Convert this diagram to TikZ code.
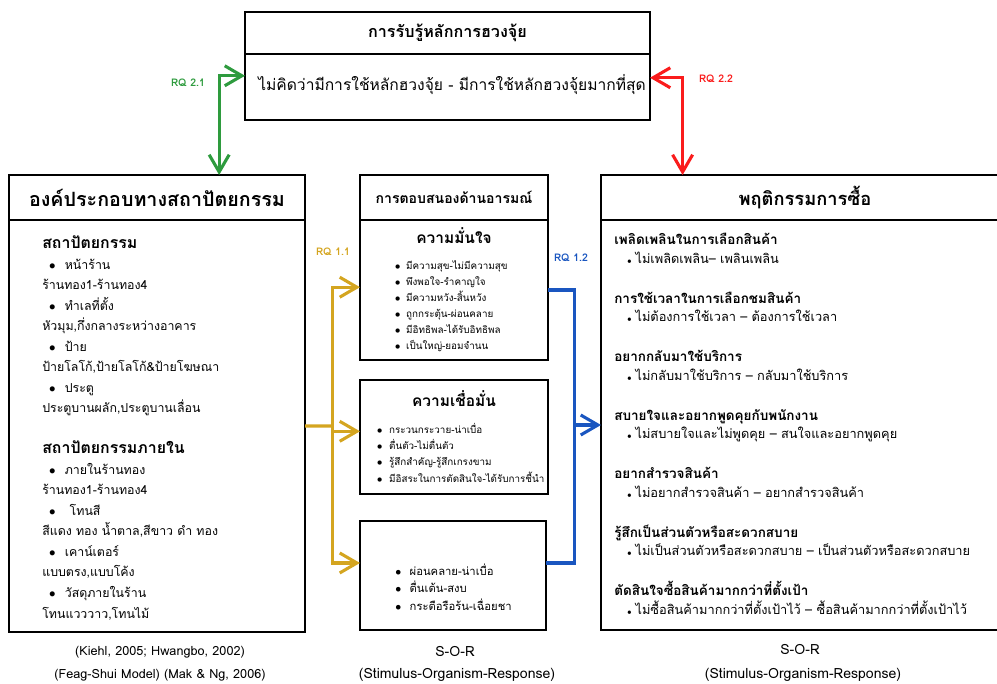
\documentclass[tikz,border=0pt]{standalone}
\usepackage{fontspec}
\setmainfont{Loma}[Script=Thai]
\usepackage{tikz}
\usetikzlibrary{arrows.meta, positioning, calc}
\definecolor{rqgreen}{RGB}{46,155,62}
\definecolor{rqred}{RGB}{250,28,28}
\definecolor{rqgold}{RGB}{212,165,32}
\definecolor{rqblue}{RGB}{26,86,192}
\newcommand{\hd}[1]{{\bfseries\fontsize{11.3}{14.6}\selectfont #1}}
\newcommand{\titik}[2]{\hspace*{#1}$\bullet$\hspace{#2}}
\newcommand{\juk}{\hspace*{9pt}{\tiny$\bullet$}\hspace{2.5pt}}
\tikzset{
    krob/.style   = {draw, line width=1.4pt, inner sep=0pt, outer sep=0pt},
    judul/.style  = {font=\bfseries\fontsize{14}{16}\selectfont},
    isi/.style    = {align=left, inner sep=0pt, anchor=base west},
    pai/.style    = {font=\bfseries\fontsize{7.5}{8}\selectfont, inner sep=0pt},
    ref/.style    = {font=\fontsize{9}{10}\selectfont, inner sep=0pt},
    sen/.style    = {line width=2.2pt},
    lukson/.style = {sen, -{Straight Barb[length=4.3mm, width=5mm]}},
    songtang/.style = {sen, {Straight Barb[length=4.3mm, width=5mm]}-{Straight Barb[length=4.3mm, width=5mm]}},
}
\begin{document}
\begin{tikzpicture}[x=0.25mm, y=-0.25mm]
    \useasboundingbox (0,0) rectangle (997,684);
    % top box
    \node[krob, font=\bfseries\fontsize{11.5}{14}\selectfont, minimum width=101.25mm, minimum height=10.5mm] (tophead) at (447.5,33) {การรับรู้หลักการฮวงจุ้ย};
    \node[krob, minimum width=101.25mm, minimum height=16.5mm, below=0pt of tophead] (topbody) {};
    \node[isi, font=\fontsize{11.1}{14}\selectfont] (topisi) at (258,91) {ไม่คิดว่ามีการใช้หลักฮวงจุ้ย - มีการใช้หลักฮวงจุ้ยมากที่สุด};
    % left: architecture
    \node[krob, judul, minimum width=74mm, minimum height=11.25mm] (lefthead) at (157,197.5) {องค์ประกอบทางสถาปัตยกรรม};
    \node[krob, minimum width=74mm, minimum height=103mm, below=0pt of lefthead] (leftbody) {};
    \node[isi, font=\fontsize{8.8}{14.6}\selectfont] (leftisi) at (42,618) {\hd{สถาปัตยกรรม}\\
        \titik{4.9pt}{6.5pt}หน้าร้าน\\
        ร้านทอง1-ร้านทอง4\\
        \titik{4.9pt}{6.5pt}ทำเลที่ตั้ง\\
        หัวมุม,กึ่งกลางระหว่างอาคาร\\
        \titik{4.9pt}{6.5pt}ป้าย\\
        ป้ายโลโก้,ป้ายโลโก้\&ป้ายโฆษณา\\
        \titik{4.9pt}{6.5pt}ประตู\\
        ประตูบานผลัก,ประตูบานเลื่อน\\[14.6pt]
        \hd{สถาปัตยกรรมภายใน}\\
        \titik{4.9pt}{6.5pt}ภายในร้านทอง\\
        ร้านทอง1-ร้านทอง4\\
        \titik{4.9pt}{10pt}โทนสี\\
        สีแดง ทอง น้ำตาล,สีขาว ดำ ทอง\\
        \titik{4.9pt}{6.5pt}เคาน์เตอร์\\
        แบบตรง,แบบโค้ง\\
        \titik{4.9pt}{6.5pt}วัสดุภายในร้าน\\
        โทนแวววาว,โทนไม้};
    \node[ref] (cite1) at (160,652) {(Kiehl, 2005; Hwangbo, 2002)};
    \node[ref] (cite2) at (160,675) {(Feag-Shui Model) (Mak \& Ng, 2006)};
    % middle: emotional response
    \node[krob, font=\bfseries\fontsize{10}{12}\selectfont, minimum width=47mm, minimum height=11.25mm] (midhead) at (454,197.5) {การตอบสนองด้านอารมณ์};
    \node[krob, minimum width=47mm, minimum height=35mm, below=0pt of midhead] (conf) {};
    \node[krob, minimum width=47mm, minimum height=28.5mm, below=5mm of conf] (trust) {};
    \node[krob, minimum width=46.5mm, minimum height=27.25mm, below=6.75mm of trust.south west, anchor=north west] (mood) {};
    \node[font=\bfseries\fontsize{11}{13}\selectfont, inner sep=0pt] (conftitle) at (454,236) {ความมั่นใจ};
    \node[isi, font=\fontsize{7}{11.5}\selectfont] (conflist) at (394.5,350) {\titik{0pt}{4pt}มีความสุข-ไม่มีความสุข\\
        \titik{0pt}{4pt}พึงพอใจ-รำคาญใจ\\
        \titik{0pt}{4pt}มีความหวัง-สิ้นหวัง\\
        \titik{0pt}{4pt}ถูกกระตุ้น-ผ่อนคลาย\\
        \titik{0pt}{4pt}มีอิทธิพล-ได้รับอิทธิพล\\
        \titik{0pt}{4pt}เป็นใหญ่-ยอมจำนน};
    \node[font=\bfseries\fontsize{11}{13}\selectfont, inner sep=0pt] (trusttitle) at (454,399) {ความเชื่อมั่น};
    \node[isi, font=\fontsize{7}{11.5}\selectfont] (trustlist) at (376.5,482) {\titik{0pt}{4.7pt}กระวนกระวาย-น่าเบื่อ\\
        \titik{0pt}{4.7pt}ตื่นตัว-ไม่ตื่นตัว\\
        \titik{0pt}{4.7pt}รู้สึกสำคัญ-รู้สึกเกรงขาม\\
        \titik{0pt}{4.7pt}มีอิสระในการตัดสินใจ-ได้รับการชี้นำ};
    \node[isi, font=\fontsize{8}{12.4}\selectfont] (moodlist) at (395,610) {\titik{0pt}{6pt}ผ่อนคลาย-น่าเบื่อ\\
        \titik{0pt}{6pt}ตื่นเต้น-สงบ\\
        \titik{0pt}{6pt}กระตือรือร้น-เฉื่อยชา};
    \node[ref, font=\fontsize{10}{11}\selectfont] (sor1) at (455,651) {S-O-R};
    \node[ref, font=\fontsize{10}{11}\selectfont] (sor1b) at (457,675) {(Stimulus-Organism-Response)};
    % right: buying behaviour
    \node[krob, judul, font=\bfseries\fontsize{13}{15}\selectfont, minimum width=102mm, minimum height=11.25mm] (righthead) at (805,197.5) {พฤติกรรมการซื้อ};
    \node[krob, minimum width=102mm, minimum height=102.5mm, below=0pt of righthead] (rightbody) {};
    \node[isi, font=\fontsize{9.1}{13}\selectfont] (rightisi) at (614,614) {{\bfseries\fontsize{9.6}{13}\selectfont เพลิดเพลินในการเลือกสินค้า}\\
        \juk ไม่เพลิดเพลิน– เพลินเพลิน\\[15.6pt]
        {\bfseries\fontsize{9.6}{13}\selectfont การใช้เวลาในการเลือกชมสินค้า}\\
        \juk ไม่ต้องการใช้เวลา – ต้องการใช้เวลา\\[15.6pt]
        {\bfseries\fontsize{9.6}{13}\selectfont อยากกลับมาใช้บริการ}\\
        \juk ไม่กลับมาใช้บริการ – กลับมาใช้บริการ\\[15.6pt]
        {\bfseries\fontsize{9.6}{13}\selectfont สบายใจและอยากพูดคุยกับพนักงาน}\\
        \juk ไม่สบายใจและไม่พูดคุย – สนใจและอยากพูดคุย\\[15.6pt]
        {\bfseries\fontsize{9.6}{13}\selectfont อยากสำรวจสินค้า}\\
        \juk ไม่อยากสำรวจสินค้า – อยากสำรวจสินค้า\\[15.6pt]
        {\bfseries\fontsize{9.6}{13}\selectfont รู้สึกเป็นส่วนตัวหรือสะดวกสบาย}\\
        \juk ไม่เป็นส่วนตัวหรือสะดวกสบาย – เป็นส่วนตัวหรือสะดวกสบาย\\[15.6pt]
        {\bfseries\fontsize{9.6}{13}\selectfont ตัดสินใจซื้อสินค้ามากกว่าที่ตั้งเป้า}\\
        \juk ไม่ซื้อสินค้ามากกว่าที่ตั้งเป้าไว้ – ซื้อสินค้ามากกว่าที่ตั้งเป้าไว้};
    \node[ref, font=\fontsize{10}{11}\selectfont] (sor2) at (800,649) {S-O-R};
    \node[ref, font=\fontsize{10}{11}\selectfont] (sor2b) at (803,675) {(Stimulus-Organism-Response)};
    % RQ 2.1 / RQ 2.2
    \draw[songtang, rqgreen] ($(topbody.north west)!0.33!(topbody.south west)$) -| ($(lefthead.north west)!0.71!(lefthead.north east)$);
    \node[pai, text=rqgreen] (rq21) at (188,83) {RQ 2.1};
    \draw[songtang, rqred] ($(topbody.north east)!0.36!(topbody.south east)$) -| ($(righthead.north west)!0.2!(righthead.north east)$);
    \node[pai, text=rqred] (rq22) at (716,79) {RQ 2.2};
    % RQ 1.1
    \coordinate (tiang) at ($(leftbody.east)!0.5!(conf.west |- leftbody.east)$);
    \draw[sen, rqgold] (leftbody.east) -- (tiang);
    \draw[lukson, rqgold] (tiang) |- ($(conf.north west)!0.48!(conf.south west)$);
    \draw[lukson, rqgold] (tiang) |- ($(trust.north west)!0.45!(trust.south west)$);
    \draw[lukson, rqgold] (tiang) |- ($(mood.north west)!0.385!(mood.south west)$);
    \node[pai, text=rqgold] (rq11) at (333,252) {RQ 1.1};
    % RQ 1.2
    \coordinate (tiangbiru) at ($(conf.east)!0.5!(rightbody.west |- conf.east)$);
    \coordinate (moodout) at ($(mood.north east)!0.385!(mood.south east)$);
    \draw[sen, rqblue] (conf.east) -| (tiangbiru |- moodout) -- (moodout);
    \draw[lukson, rqblue] (tiangbiru |- rightbody.west) -- (rightbody.west);
    \node[pai, text=rqblue] (rq12) at (571,258) {RQ 1.2};
\end{tikzpicture}
\end{document}
